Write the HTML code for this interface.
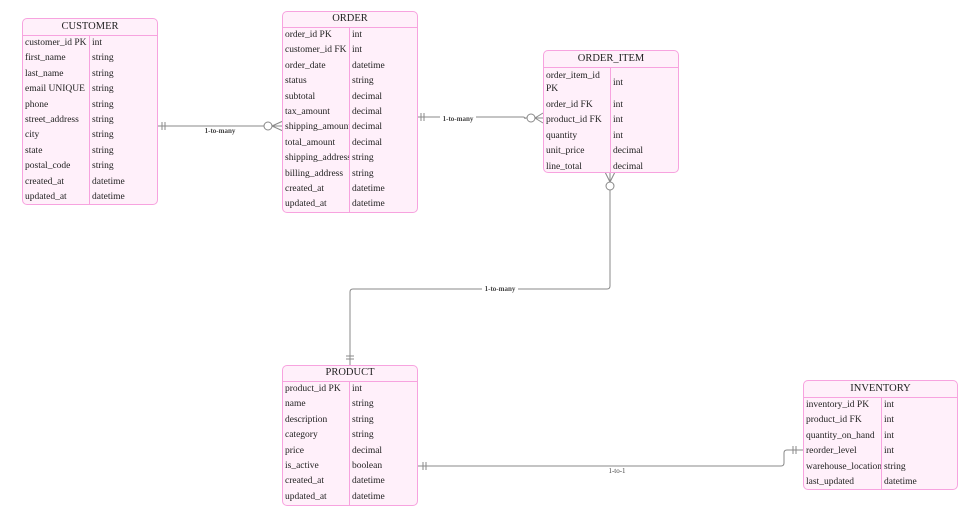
<!DOCTYPE html>
<html><head><meta charset="utf-8"><style>
body{margin:0;width:975px;height:514px;background:#fff;position:relative;overflow:hidden;font-family:"Liberation Serif",serif;color:#222;}
.t{position:absolute;background:#fff0fa;border:1.5px solid #f7a3df;border-radius:5px;box-sizing:border-box;overflow:hidden;}
.h{text-align:center;font-size:10.5px;border-bottom:1.5px solid #f7a3df;box-sizing:border-box;}
.r{display:flex;font-size:9.5px;height:15.4px;line-height:15.4px;}
.r span:first-child{padding-left:2px;border-right:1px solid #f7a3df;box-sizing:border-box;white-space:nowrap;overflow:hidden}
.r span:last-child{padding-left:2px;white-space:nowrap}
svg{position:absolute;left:0;top:0}
.lbl{font-size:7px;font-weight:bold;fill:#444;font-family:"Liberation Serif",serif}
</style></head><body>
<svg width="975" height="514">
<g stroke="#888" stroke-width="1" fill="none">
<path d="M157 126H264"/><path d="M162 122v8M165 122v8"/><circle cx="268" cy="126" r="4" fill="#fff"/><path d="M272 126L283 121M272 126L283 131M272 126H283"/>
<path d="M417 117H523Q525 117 525 119V118H527"/><path d="M421 113v8M424 113v8"/><path d="M525 118H527"/><circle cx="531" cy="118" r="4" fill="#fff"/><path d="M535 118L543 113M535 118L543 123M535 118H543"/>
<path d="M610 190V286Q610 289 607 289H353Q350 289 350 292V365"/><circle cx="610" cy="186" r="4" fill="#fff"/><path d="M610 182L605 172M610 182L615 172M610 182V172"/><path d="M346 356h8M346 359h8"/>
<path d="M417 466H781Q784 466 784 463V453Q784 450 787 450H803"/><path d="M423 462v8M426 462v8"/><path d="M793 446v8M796 446v8"/>
</g>
<rect x="200" y="127" width="40" height="8" fill="#fff"/>
<text class="lbl" x="220" y="133" text-anchor="middle">1-to-many</text>
<rect x="440" y="115" width="36" height="8" fill="#fff"/>
<text class="lbl" x="458" y="121" text-anchor="middle">1-to-many</text>
<rect x="482" y="285" width="36" height="8" fill="#fff"/>
<text class="lbl" x="500" y="291" text-anchor="middle">1-to-many</text>
<text class="lbl" x="617" y="473" text-anchor="middle" style="font-weight:normal">1-to-1</text>
</svg>

<div class="t" style="left:22px;top:18px;width:136px;height:187px">
<div class="h" style="height:17px;line-height:15px">CUSTOMER</div>
<div class="r"><span style="width:67px">customer_id PK</span><span>int</span></div>
<div class="r"><span style="width:67px">first_name</span><span>string</span></div>
<div class="r"><span style="width:67px">last_name</span><span>string</span></div>
<div class="r"><span style="width:67px">email UNIQUE</span><span>string</span></div>
<div class="r"><span style="width:67px">phone</span><span>string</span></div>
<div class="r"><span style="width:67px">street_address</span><span>string</span></div>
<div class="r"><span style="width:67px">city</span><span>string</span></div>
<div class="r"><span style="width:67px">state</span><span>string</span></div>
<div class="r"><span style="width:67px">postal_code</span><span>string</span></div>
<div class="r"><span style="width:67px">created_at</span><span>datetime</span></div>
<div class="r" style="height:20px"><span style="width:67px">updated_at</span><span>datetime</span></div>
</div>

<div class="t" style="left:282px;top:11px;width:136px;height:202px">
<div class="h" style="height:16px;line-height:14px">ORDER</div>
<div class="r"><span style="width:67px">order_id PK</span><span>int</span></div>
<div class="r"><span style="width:67px">customer_id FK</span><span>int</span></div>
<div class="r"><span style="width:67px">order_date</span><span>datetime</span></div>
<div class="r"><span style="width:67px">status</span><span>string</span></div>
<div class="r"><span style="width:67px">subtotal</span><span>decimal</span></div>
<div class="r"><span style="width:67px">tax_amount</span><span>decimal</span></div>
<div class="r"><span style="width:67px">shipping_amount</span><span>decimal</span></div>
<div class="r"><span style="width:67px">total_amount</span><span>decimal</span></div>
<div class="r"><span style="width:67px">shipping_address</span><span>string</span></div>
<div class="r"><span style="width:67px">billing_address</span><span>string</span></div>
<div class="r"><span style="width:67px">created_at</span><span>datetime</span></div>
<div class="r" style="height:20px"><span style="width:67px">updated_at</span><span>datetime</span></div>
</div>

<div class="t" style="left:543px;top:50px;width:136px;height:123px">
<div class="h" style="height:17px;line-height:15px">ORDER_ITEM</div>
<div class="r" style="height:30px;line-height:13px"><span style="width:67px;white-space:normal;padding-top:2px">order_item_id PK</span><span style="line-height:30px">int</span></div>
<div class="r"><span style="width:67px">order_id FK</span><span>int</span></div>
<div class="r"><span style="width:67px">product_id FK</span><span>int</span></div>
<div class="r"><span style="width:67px">quantity</span><span>int</span></div>
<div class="r"><span style="width:67px">unit_price</span><span>decimal</span></div>
<div class="r" style="height:20px"><span style="width:67px">line_total</span><span>decimal</span></div>
</div>

<div class="t" style="left:282px;top:365px;width:136px;height:141px">
<div class="h" style="height:16px;line-height:14px">PRODUCT</div>
<div class="r"><span style="width:67px">product_id PK</span><span>int</span></div>
<div class="r"><span style="width:67px">name</span><span>string</span></div>
<div class="r"><span style="width:67px">description</span><span>string</span></div>
<div class="r"><span style="width:67px">category</span><span>string</span></div>
<div class="r"><span style="width:67px">price</span><span>decimal</span></div>
<div class="r"><span style="width:67px">is_active</span><span>boolean</span></div>
<div class="r"><span style="width:67px">created_at</span><span>datetime</span></div>
<div class="r" style="height:20px"><span style="width:67px">updated_at</span><span>datetime</span></div>
</div>

<div class="t" style="left:803px;top:380px;width:155px;height:110px">
<div class="h" style="height:17px;line-height:15px">INVENTORY</div>
<div class="r"><span style="width:78px">inventory_id PK</span><span>int</span></div>
<div class="r"><span style="width:78px">product_id FK</span><span>int</span></div>
<div class="r"><span style="width:78px">quantity_on_hand</span><span>int</span></div>
<div class="r"><span style="width:78px">reorder_level</span><span>int</span></div>
<div class="r"><span style="width:78px">warehouse_location</span><span>string</span></div>
<div class="r" style="height:20px"><span style="width:78px">last_updated</span><span>datetime</span></div>
</div>
</body></html>
